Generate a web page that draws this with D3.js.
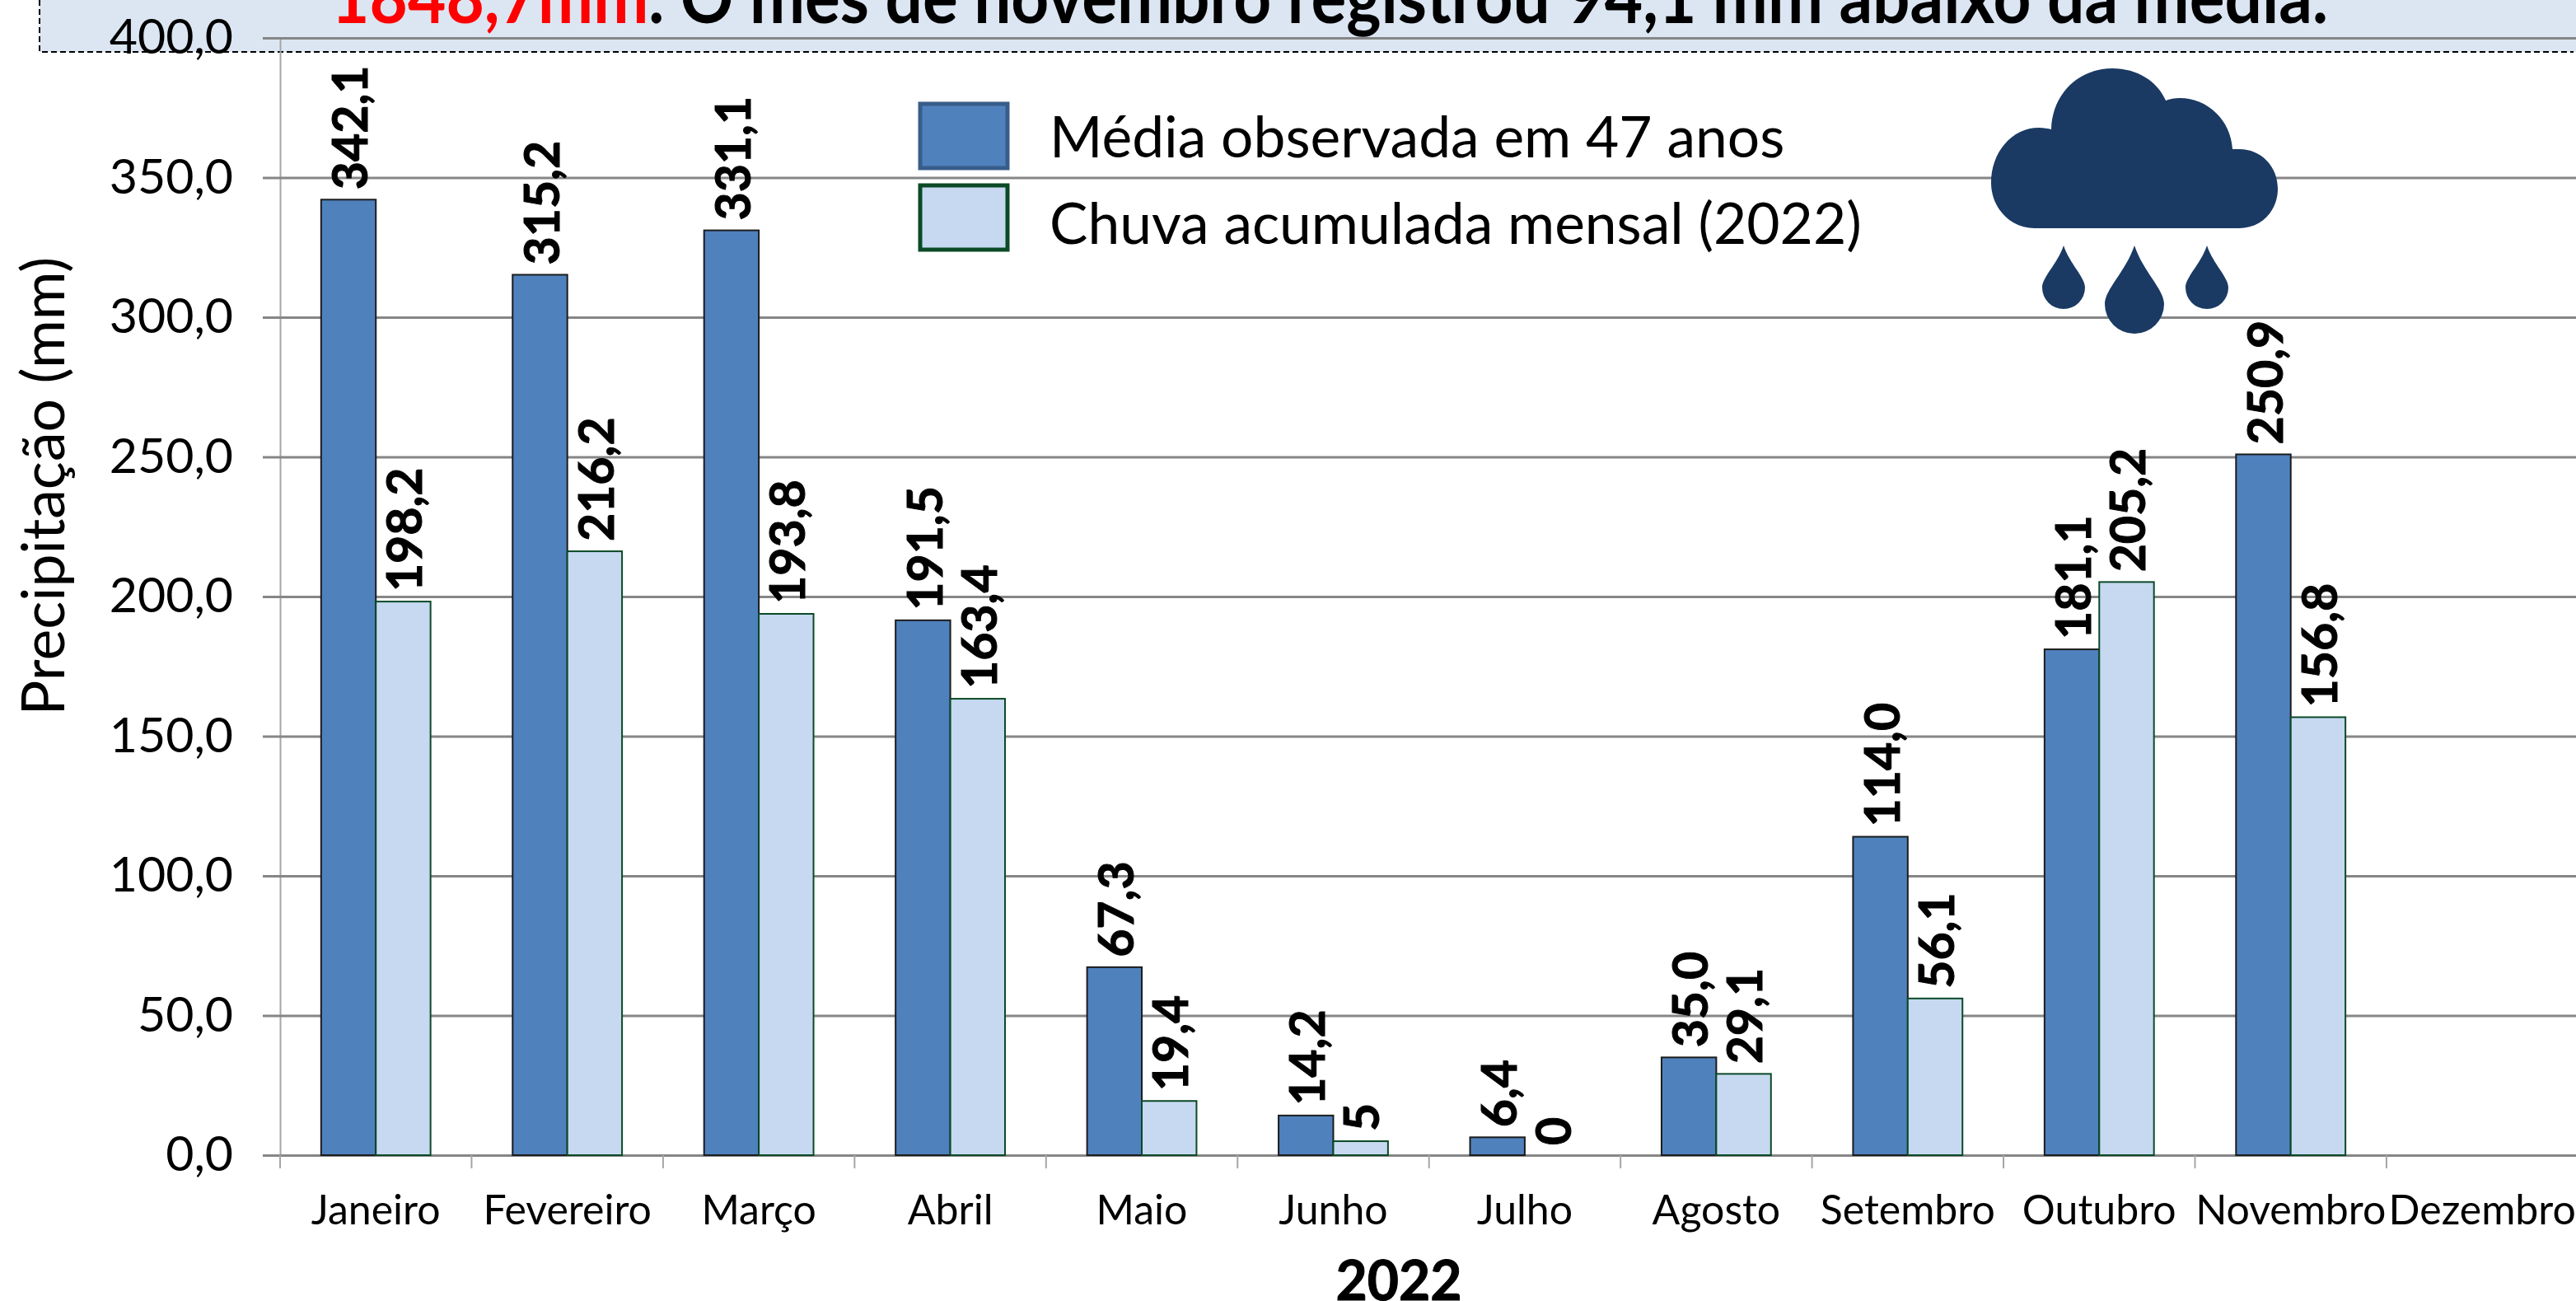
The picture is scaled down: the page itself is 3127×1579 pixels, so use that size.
<!DOCTYPE html>
<html>
<head>
<meta charset="utf-8">
<script src="https://cdn.jsdelivr.net/npm/d3@7"></script>
<style>
  body { margin: 0; background: #fff; }
  text { font-family: Lato, "Open Sans", sans-serif; fill: #000; }
</style>
</head>
<body>
<div id="chart"></div>
<script>
let months = ['Janeiro', 'Fevereiro', 'Março', 'Abril', 'Maio', 'Junho', 'Julho', 'Agosto', 'Setembro', 'Outubro', 'Novembro', 'Dezembro']
let media = [342.1, 315.2, 331.1, 191.5, 67.3, 14.2, 6.4, 35.0, 114.0, 181.1, 250.9, null]
let chuva = [198.2, 216.2, 193.8, 163.4, 19.4, 5, 0, 29.1, 56.1, 205.2, 156.8, null]
let yTicks = [0, 50, 100, 150, 200, 250, 300, 350, 400]
let seriesNames = ['Média observada em 47 anos', 'Chuva acumulada mensal (2022)']

let width = 3127
let height = 1579

let svg = d3.select('#chart').append('svg')
            .attr('width', width)
            .attr('height', height)
            .style('display', 'block')

let x = d3.scaleBand().domain(months).range([340, 340 + 232.45 * 12])
let y = d3.scaleLinear().domain([0, 400]).range([1402, 46])
let barW = x.bandwidth() * 2 / 7

let comma = v => String(v).replace('.', ',')
let labelMedia = v => comma(v.toFixed(1))
let labelChuva = v => Number.isInteger(v) ? String(v) : comma(v.toFixed(1))

// title box, cut by the top of the picture
svg.append('rect')
   .attr('x', 48).attr('y', 0)
   .attr('width', width - 48).attr('height', 63)
   .attr('fill', '#dce6f2')
svg.append('path')
   .attr('d', 'M48,0 V63 H3124')
   .attr('fill', 'none')
   .attr('stroke', '#000')
   .attr('stroke-width', 2)
   .attr('stroke-dasharray', '7 4')
   .attr('shape-rendering', 'crispEdges')

// grid + y axis
let yAxis = d3.axisLeft(y)
              .tickValues(yTicks)
              .tickSize(21)
              .tickPadding(36)
              .tickFormat(d => comma(d.toFixed(1)))

let gy = svg.append('g').attr('transform', 'translate(340,0)').call(yAxis)
gy.select('.domain').attr('stroke', '#a6a6a6').attr('stroke-width', 2)
gy.selectAll('.tick line').attr('stroke', '#868686').attr('stroke-width', 3)
gy.selectAll('.tick text').attr('font-size', 59).style('font-family', 'Lato')
gy.selectAll('.tick').append('line')
  .attr('x1', 0).attr('x2', width - 340)
  .attr('stroke', '#868686').attr('stroke-width', 3)

// x axis, ticks sit on the band edges
let gx = svg.append('g').attr('transform', `translate(0,${y(0)})`)
            .call(d3.axisBottom(x).tickSize(0).tickPadding(48))
gx.select('.domain').remove()
gx.selectAll('.tick text').attr('font-size', 50).style('font-family', 'Lato')
gx.selectAll('line.edge')
  .data(months)
  .enter().append('line')
  .attr('class', 'edge')
  .attr('x1', d => x(d)).attr('x2', d => x(d))
  .attr('y1', 0).attr('y2', 16)
  .attr('stroke', '#a6a6a6').attr('stroke-width', 2)

// bars
let idx = months.map((m, i) => i).filter(i => media[i] !== null)
let center = m => x(m) + x.bandwidth() / 2

svg.append('g').selectAll('rect')
   .data(idx)
   .enter().append('rect')
   .attr('x', i => center(months[i]) - barW)
   .attr('y', i => y(media[i]))
   .attr('width', barW)
   .attr('height', i => y(0) - y(media[i]))
   .attr('fill', '#4f81bd')
   .attr('stroke', '#1c1c1c')
   .attr('stroke-width', 2)

svg.append('g').selectAll('rect')
   .data(idx)
   .enter().append('rect')
   .attr('x', i => center(months[i]))
   .attr('y', i => y(chuva[i]))
   .attr('width', barW)
   .attr('height', i => y(0) - y(chuva[i]))
   .attr('fill', '#c6d9f1')
   .attr('stroke', '#0b4a26')
   .attr('stroke-width', 2)

// value labels
let addLabels = function (values, fmt, dx) {
  svg.append('g').selectAll('text')
     .data(idx)
     .enter().append('text')
     .attr('transform', i => `translate(${center(months[i]) + dx},${y(values[i]) - 12}) rotate(-90)`)
     .attr('font-size', 59)
     .attr('font-weight', 700)
     .attr('stroke', '#000')
     .attr('stroke-width', 1)
     .text(i => fmt(values[i]))
}
addLabels(media, labelMedia, -10)
addLabels(chuva, labelChuva, 56)

// title line
let title = svg.append('text')
               .attr('x', 402).attr('y', 28)
               .attr('font-size', 88)
               .attr('font-weight', 700)
               .attr('textLength', 2424)
               .attr('lengthAdjust', 'spacingAndGlyphs')
title.append('tspan').style('fill', '#ff0000').text('1848,7mm')
title.append('tspan').text('. O mês de novembro registrou 94,1 mm abaixo da média.')

// axis titles
svg.append('text')
   .attr('transform', 'translate(78,590) rotate(-90)')
   .attr('text-anchor', 'middle')
   .attr('font-size', 71.5)
   .text('Precipitação (mm)')

svg.append('text')
   .attr('x', 1698).attr('y', 1578)
   .attr('text-anchor', 'middle')
   .attr('font-size', 66)
   .attr('font-weight', 700)
   .attr('stroke', '#000')
   .attr('stroke-width', 1)
   .text('2022')

// legend
let legendFill = ['#4f81bd', '#c6d9f1']
let legendStroke = ['#385d8a', '#0b4a26']
let legend = svg.append('g').selectAll('g')
                .data(seriesNames)
                .enter().append('g')
                .attr('transform', (d, i) => `translate(1115,${124 + i * 99})`)
legend.append('rect')
      .attr('x', 2).attr('y', 2)
      .attr('width', 106).attr('height', 78)
      .attr('fill', (d, i) => legendFill[i])
      .attr('stroke', (d, i) => legendStroke[i])
      .attr('stroke-width', 5)
legend.append('text')
      .attr('x', 159)
      .attr('y', (d, i) => 67 + i * 6)
      .attr('font-size', 69.5)
      .text(d => d)

// cloud icon
let icon = svg.append('g').attr('fill', '#1a3a63')
icon.append('path')
    .attr('d', 'M2470,277 C2438,277 2417,250 2417,222 C2417,185 2442,155 2475,155 C2481,155 2486,156 2490,157 C2491,115 2522,83 2564,83 C2595,83 2619,99 2629,122 C2634,120 2640,119 2646,119 C2680,119 2708,146 2710,181 C2712,181 2715,181 2718,181 C2745,181 2765,202 2765,229 C2765,256 2745,277 2718,277 Z')
let drops = [[2505, 298, 375, 26], [2591, 298, 405, 36], [2679, 298, 375, 26]]
icon.selectAll('path.drop')
    .data(drops)
    .enter().append('path')
    .attr('class', 'drop')
    .attr('d', ([cx, t, b, r]) => {
      let mid = b - r
      return `M${cx},${t} C${cx + r * 0.3},${t + (mid - t) * 0.45} ${cx + r},${mid - (mid - t) * 0.25} ${cx + r},${mid}` +
             ` A${r},${r} 0 0 1 ${cx - r},${mid}` +
             ` C${cx - r},${mid - (mid - t) * 0.25} ${cx - r * 0.3},${t + (mid - t) * 0.45} ${cx},${t} Z`
    })
</script>
</body>
</html>
